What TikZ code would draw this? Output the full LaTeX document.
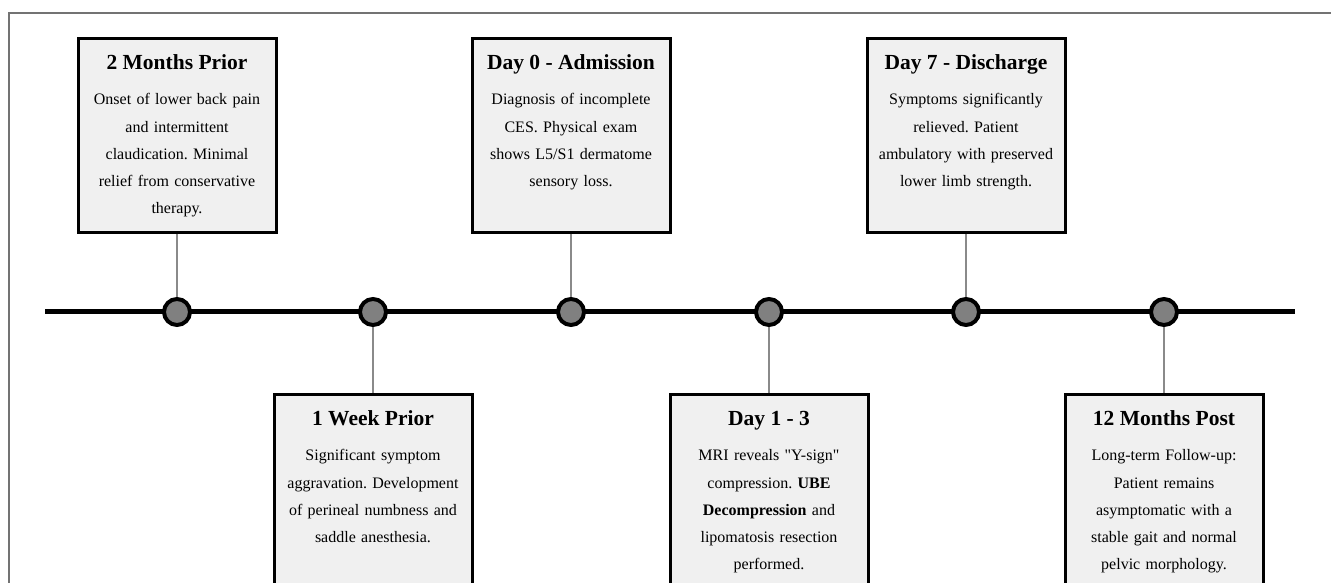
\documentclass[tikz,border=0pt]{standalone}
\usepackage{fontspec}
\setmainfont{Liberation Serif}
\usetikzlibrary{positioning}
\definecolor{boxfill}{HTML}{F0F0F0}
\definecolor{dotfill}{HTML}{808080}
\definecolor{stemgray}{HTML}{8A8A8A}
\definecolor{framegray}{HTML}{737373}
\frenchspacing

\tikzset{
  evbox/.style={draw=black, line width=3pt, fill=boxfill, minimum width=198pt, minimum height=194pt, inner sep=0pt},
  evdot/.style={circle, draw=black, line width=4pt, fill=dotfill, minimum size=26pt, inner sep=0pt},
  evstem/.style={draw=stemgray, line width=1.5pt},
  evtitle/.style={font=\fontsize{21.5}{24}\selectfont\bfseries, inner sep=0pt, anchor=base},
  evbody/.style={font=\fontsize{16}{27.2}\selectfont, text width=195pt, align=center, inner sep=0pt, anchor=base},
}

\begin{document}
\begin{tikzpicture}[x=1pt,y=1pt]
	\useasboundingbox (0,-271) rectangle (1331,312);
	
	% frame, cut off at the page edges
	\draw[framegray, line width=1.5pt] (9,-271) -- (9,299) -- (1331,299);
	
	% axis
	\coordinate (axl) at (45,0);
	\coordinate (axr) at (1295,0);
	\draw[line width=5pt] (axl) -- (axr);
	
	% milestones
	\foreach \i/\x in {1/177,2/373,3/571,4/769,5/966,6/1164}
		\node[evdot] (p\i) at (\x,0) {};
	
	% boxes above the axis
	\node[evbox, above=63pt of p1] (b1) {};
	\node[evbox, above=63pt of p3] (b3) {};
	\node[evbox, above=63pt of p5] (b5) {};
	
	% boxes below the axis
	\node[evbox, below=66pt of p2] (b2) {};
	\node[evbox, below=66pt of p4] (b4) {};
	\node[evbox, below=66pt of p6] (b6) {};
	
	% stems
	\draw[evstem] (b1.south) -- (p1.north);
	\draw[evstem] (b3.south) -- (p3.north);
	\draw[evstem] (b5.south) -- (p5.north);
	\draw[evstem] (p2.south) -- (b2.north);
	\draw[evstem] (p4.south) -- (b4.north);
	\draw[evstem] (p6.south) -- (b6.north);
	
	% texts
	\node[evtitle] (t1) at ([yshift=-33pt]b1.north) {2 Months Prior};
	\node[evbody] (d1) at ([yshift=-35pt]t1.base) {Onset of lower back pain\\ and intermittent\\ claudication. Minimal\\ relief from conservative\\ therapy.};
	
	\node[evtitle] (t2) at ([yshift=-33pt]b2.north) {1 Week Prior};
	\node[evbody] (d2) at ([yshift=-35pt]t2.base) {Significant symptom\\ aggravation. Development\\ of perineal numbness and\\ saddle anesthesia.};
	
	\node[evtitle] (t3) at ([yshift=-33pt]b3.north) {Day 0 - Admission};
	\node[evbody] (d3) at ([yshift=-35pt]t3.base) {Diagnosis of incomplete\\ CES. Physical exam\\ shows L5/S1 dermatome\\ sensory loss.};
	
	\node[evtitle] (t4) at ([yshift=-33pt]b4.north) {Day 1 - 3};
	\node[evbody] (d4) at ([yshift=-35pt]t4.base) {MRI reveals \textquotedbl Y-sign\textquotedbl\\ compression. \textbf{UBE}\\ \textbf{Decompression} and\\ lipomatosis resection\\ performed.};
	
	\node[evtitle] (t5) at ([yshift=-33pt]b5.north) {Day 7 - Discharge};
	\node[evbody] (d5) at ([yshift=-35pt]t5.base) {Symptoms significantly\\ relieved. Patient\\ ambulatory with preserved\\ lower limb strength.};
	
	\node[evtitle] (t6) at ([yshift=-33pt]b6.north) {12 Months Post};
	\node[evbody] (d6) at ([yshift=-35pt]t6.base) {Long-term Follow-up:\\ Patient remains\\ asymptomatic with a\\ stable gait and normal\\ pelvic morphology.};
	
\end{tikzpicture}
\end{document}
